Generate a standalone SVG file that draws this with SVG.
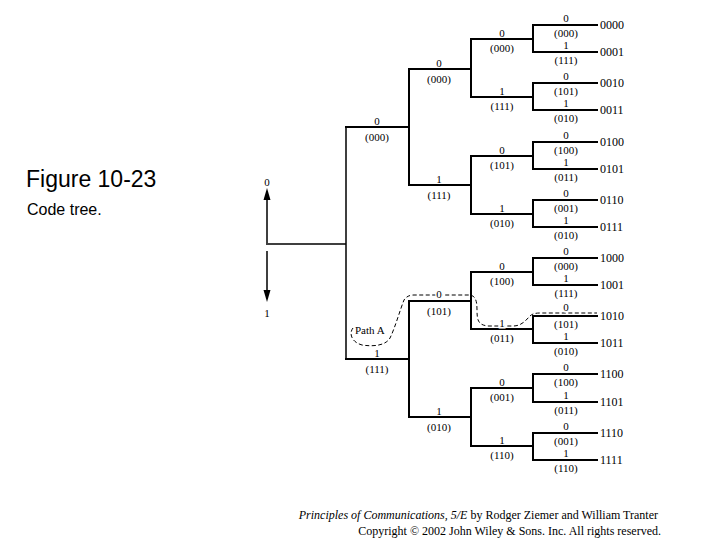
<svg xmlns="http://www.w3.org/2000/svg" width="720" height="540" viewBox="0 0 720 540">
<style>
.ln{fill:none;stroke:#000;stroke-width:2;stroke-linecap:square}
.rt{fill:none;stroke:#000;stroke-width:1.5}
.lb{font-family:"Liberation Serif","Times New Roman",serif;font-size:11px;fill:#000;text-anchor:middle}
.lf{font-family:"Liberation Serif","Times New Roman",serif;font-size:11px;fill:#000}
.leaf{font-family:"Liberation Serif","Times New Roman",serif;font-size:12px;fill:#000}
.halo{paint-order:stroke;stroke:#fff;stroke-width:3px}
.dash{fill:none;stroke:#000;stroke-width:1;stroke-dasharray:4 2.5}
.ft{font-family:"Liberation Serif","Times New Roman",serif;font-size:12px;fill:#000;text-anchor:end}
</style>
<rect width="720" height="540" fill="#fff"/>
<g id="title">
<text x="26" y="187" font-family="Liberation Sans, Arial, sans-serif" font-size="23">Figure 10-23</text>
<text x="27" y="215" font-family="Liberation Sans, Arial, sans-serif" font-size="16">Code tree.</text>
</g>
<g id="connectors">
<path class="rt" d="M266,244 H346 M346,127 V359"/>
<path class="rt" d="M267,243 V198 M267,251 V292"/>
<polygon points="267,188 263.5,200 270.5,200"/>
<polygon points="267,302 263.5,290 270.5,290"/>
<path class="ln" d="M346,127 H409 M346,359 H409"/>
<path class="ln" d="M409,69 V185 M409,301 V417"/>
<path class="ln" d="M409,69 H471 M409,185 H471 M409,301 H471 M409,417 H471"/>
<path class="ln" d="M471,39 V97 M471,156 V214 M471,272 V329 M471,388 V446"/>
<path class="ln" d="M471,39 H533 M471,97 H533 M471,156 H533 M471,214 H533 M471,272 H533 M471,329 H533 M471,388 H533 M471,446 H533"/>
<path class="ln" d="M533,25 V52 M533,83 V110 M533,142 V169 M533,200 V227 M533,258 V285 M533,316 V343 M533,374 V402 M533,433 V460"/>
<path class="ln" d="M533,25 H597 M533,52 H597 M533,83 H597 M533,110 H597 M533,142 H597 M533,169 H597 M533,200 H597 M533,227 H597 M533,258 H597 M533,285 H597 M533,316 H597 M533,343 H597 M533,374 H597 M533,402 H597 M533,433 H597 M533,460 H597"/>
<path id="pathA" class="dash" d="M353,328 C349,333 351,342 362,345 C375,347 386,345 390,338 C395,328 400,310 404,300 C406,297 409,295 414,295 L470,295 C476,296 477,302 477,310 C477,320 478,325 488,326 L513,326 C522,326 526,320 530,316 C532,314 535,313 540,313 L597,313"/>
</g>
<g id="root-labels">
<text class="lb" x="267" y="186">0</text>
<text class="lb" x="267" y="317">1</text>
<text class="lf" x="355" y="334">Path A</text>
</g>
<g id="level1">
<text class="lb" x="377" y="125">0</text><text class="lb" x="377" y="141">(000)</text>
<text class="lb" x="377" y="357">1</text><text class="lb" x="377" y="373">(111)</text>
</g>
<g id="level2">
<text class="lb" x="439" y="67">0</text><text class="lb" x="439" y="83">(000)</text>
<text class="lb" x="439" y="183">1</text><text class="lb" x="439" y="199">(111)</text>
<text class="lb halo" x="439" y="298">0</text><text class="lb" x="439" y="315">(101)</text>
<text class="lb" x="439" y="415">1</text><text class="lb" x="439" y="431">(010)</text>
</g>
<g id="level3">
<text class="lb" x="502" y="37">0</text><text class="lb" x="502" y="52">(000)</text>
<text class="lb" x="502" y="95">1</text><text class="lb" x="502" y="110">(111)</text>
<text class="lb" x="502" y="154">0</text><text class="lb" x="502" y="169">(101)</text>
<text class="lb" x="502" y="212">1</text><text class="lb" x="502" y="227">(010)</text>
<text class="lb" x="502" y="270">0</text><text class="lb" x="502" y="285">(100)</text>
<text class="lb halo" x="502" y="327">1</text><text class="lb" x="502" y="342">(011)</text>
<text class="lb" x="502" y="386">0</text><text class="lb" x="502" y="401">(001)</text>
<text class="lb" x="502" y="444">1</text><text class="lb" x="502" y="459">(110)</text>
</g>
<g id="level4">
<text class="lb" x="566" y="22">0</text><text class="lb" x="566" y="37">(000)</text>
<text class="lb" x="566" y="49">1</text><text class="lb" x="566" y="64">(111)</text>
<text class="lb" x="566" y="80">0</text><text class="lb" x="566" y="95">(101)</text>
<text class="lb" x="566" y="107">1</text><text class="lb" x="566" y="122">(010)</text>
<text class="lb" x="566" y="139">0</text><text class="lb" x="566" y="154">(100)</text>
<text class="lb" x="566" y="166">1</text><text class="lb" x="566" y="181">(011)</text>
<text class="lb" x="566" y="197">0</text><text class="lb" x="566" y="212">(001)</text>
<text class="lb" x="566" y="224">1</text><text class="lb" x="566" y="239">(010)</text>
<text class="lb" x="566" y="255">0</text><text class="lb" x="566" y="270">(000)</text>
<text class="lb" x="566" y="282">1</text><text class="lb" x="566" y="297">(111)</text>
<text class="lb halo" x="566" y="311">0</text><text class="lb" x="566" y="328">(101)</text>
<text class="lb" x="566" y="340">1</text><text class="lb" x="566" y="355">(010)</text>
<text class="lb" x="566" y="371">0</text><text class="lb" x="566" y="386">(100)</text>
<text class="lb" x="566" y="399">1</text><text class="lb" x="566" y="414">(011)</text>
<text class="lb" x="566" y="430">0</text><text class="lb" x="566" y="445">(001)</text>
<text class="lb" x="566" y="457">1</text><text class="lb" x="566" y="472">(110)</text>
</g>
<g id="leaves">
<text class="leaf" x="600" y="29">0000</text>
<text class="leaf" x="600" y="56">0001</text>
<text class="leaf" x="600" y="87">0010</text>
<text class="leaf" x="600" y="114">0011</text>
<text class="leaf" x="600" y="146">0100</text>
<text class="leaf" x="600" y="173">0101</text>
<text class="leaf" x="600" y="204">0110</text>
<text class="leaf" x="600" y="231">0111</text>
<text class="leaf" x="600" y="262">1000</text>
<text class="leaf" x="600" y="289">1001</text>
<text class="leaf" x="600" y="320">1010</text>
<text class="leaf" x="600" y="347">1011</text>
<text class="leaf" x="600" y="378">1100</text>
<text class="leaf" x="600" y="406">1101</text>
<text class="leaf" x="600" y="437">1110</text>
<text class="leaf" x="600" y="464">1111</text>
</g>
<g id="footer">
<text class="ft" x="658" y="519"><tspan font-style="italic">Principles of Communications, 5/E</tspan> by Rodger Ziemer and William Tranter</text>
<text class="ft" x="661" y="535">Copyright © 2002 John Wiley &amp; Sons. Inc. All rights reserved.</text>
</g>
</svg>
